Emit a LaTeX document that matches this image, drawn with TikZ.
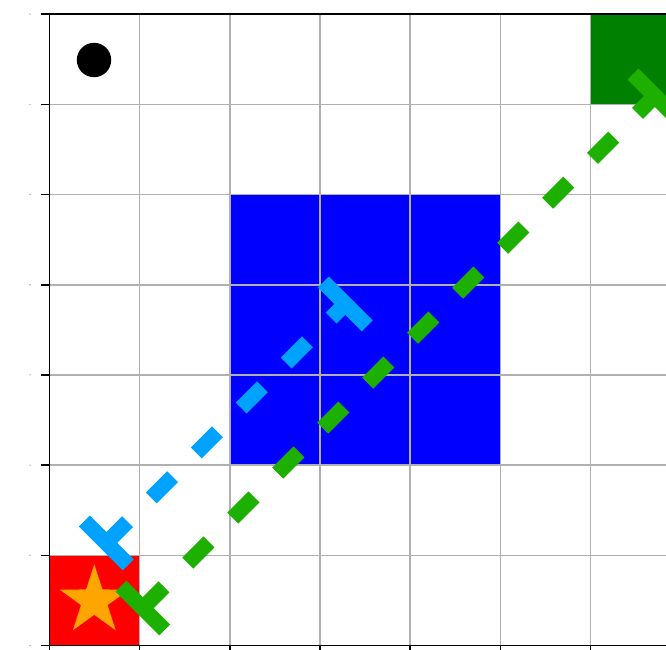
\documentclass[tikz,border=0pt]{standalone}
\definecolor{lineblue}{RGB}{0,162,255}
\definecolor{linegreen}{RGB}{30,176,0}
\definecolor{goalgreen}{RGB}{0,128,0}
\definecolor{gridgray}{RGB}{176,176,176}
\definecolor{starorange}{RGB}{255,165,0}
\begin{document}
\begin{tikzpicture}[x=1pt,y=-1pt,
  gridline/.style={draw=gridgray,line width=1.6pt},
  spine/.style={draw=black,line width=1.6pt},
  trajline/.style={line width=15.5pt,dash pattern=on 30pt off 33.6pt,line cap=butt},
  endbar/.style={line width=15.5pt,line cap=butt}]
\useasboundingbox (0,0) rectangle (666,649);
\clip (0,0) rectangle (666,649);
\fill[white] (0,0) rectangle (666,649);
% cells
\fill[red] (49.3,555.3) rectangle (139.5,645.5);
\fill[blue] (229.7,194.5) rectangle (500.3,465.1);
\fill[goalgreen] (590.5,14.1) rectangle (680.7,104.3);
% grid
\foreach \x in {139.5,229.7,319.9,410.1,500.3,590.5}
  \draw[gridline] (\x,14.1) -- (\x,645.5);
\foreach \y in {104.3,194.5,284.7,374.9,465.1,555.3}
  \draw[gridline] (49.3,\y) -- (680,\y);
% spines and ticks
\draw[spine,line cap=rect] (49.3,645.5) -- (49.3,14.1) -- (680,14.1);
\draw[spine,line cap=rect] (49.3,645.5) -- (680,645.5);
\foreach \y in {14.1,104.3,194.5,284.7,374.9,465.1,555.3,645.5} {
  \draw[spine] (41,\y) -- (49.3,\y);
  \fill[gray!60] (30,\y) circle (0.8pt);
}
\foreach \x in {49.3,139.5,229.7,319.9,410.1,500.3,590.5}
  \draw[spine] (\x,645.5) -- (\x,652);
% markers
\fill[black] (94,60) circle (17.2pt);
\fill[starorange,shift={(94.3,600.8)}] (-90:36.5) -- (-54:14) -- (-18:36.5) -- (18:14) -- (54:36.5) -- (90:14) -- (126:36.5) -- (162:14) -- (198:36.5) -- (234:14) -- cycle;
% trajectories
\coordinate (bs) at (106.3,542.9);
\coordinate (be) at (345.3,303.9);
\coordinate (gs) at (142.8,608);
\coordinate (ge) at (654.8,96);
\draw[trajline,lineblue] (bs) -- (be);
\draw[endbar,lineblue] ([shift={(-21.9,-21.9)}]bs) -- ([shift={(21.9,21.9)}]bs);
\draw[endbar,lineblue] ([shift={(-21.9,-21.9)}]be) -- ([shift={(21.9,21.9)}]be);
\draw[trajline,linegreen] (gs) -- (ge);
\draw[endbar,linegreen] ([shift={(-21.9,-21.9)}]gs) -- ([shift={(21.9,21.9)}]gs);
\draw[endbar,linegreen] ([shift={(-21.9,-21.9)}]ge) -- ([shift={(21.9,21.9)}]ge);
\end{tikzpicture}
\end{document}
